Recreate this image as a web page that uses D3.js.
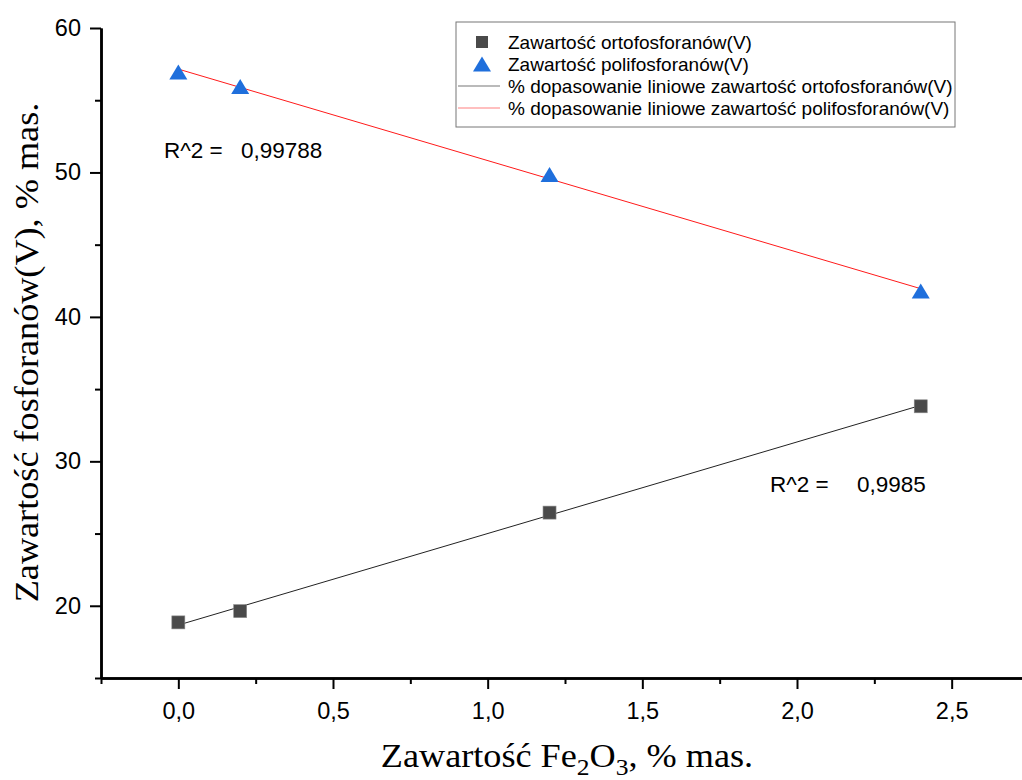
<!DOCTYPE html>
<html>
<head>
<meta charset="utf-8">
<script src="https://cdn.jsdelivr.net/npm/d3@7"></script>
<style>
  body { margin: 0; background: #fff; }
  svg { display: block; }
</style>
</head>
<body>
<script>
// data
var xValues = [0, 0.2, 1.2, 2.4];
var orthoValues = [18.85, 19.63, 26.45, 33.81];
var polyValues = [56.95, 55.95, 49.85, 41.8];
var r2Labels = ["0,99788", "0,9985"];
var xTicks = [0, 0.5, 1, 1.5, 2, 2.5];
var yTicks = [20, 30, 40, 50, 60];
var legendLabels = [
  "Zawartość ortofosforanów(V)",
  "Zawartość polifosforanów(V)",
  "% dopasowanie liniowe zawartość ortofosforanów(V)",
  "% dopasowanie liniowe zawartość polifosforanów(V)"
];

var width = 1022, height = 780;

var svg = d3.select("body").append("svg")
  .attr("width", width)
  .attr("height", height);

var x = d3.scaleLinear().domain([-0.25, 2.75]).range([101, 1029]);
var y = d3.scaleLinear().domain([15, 60]).range([678, 28]);

var pl = d3.formatLocale({decimal: ",", thousands: " ", grouping: [3], currency: ["", ""]});
var fmt = pl.format(".1f");

//axes
var xAxis = svg.append("g")
  .attr("transform", "translate(0," + y(15) + ")")
  .call(d3.axisBottom(x).tickValues(xTicks).tickFormat(fmt).tickSize(11).tickSizeOuter(0));
var xMinor = svg.append("g")
  .attr("transform", "translate(0," + y(15) + ")")
  .call(d3.axisBottom(x).tickValues([-0.25, 0.25, 0.75, 1.25, 1.75, 2.25]).tickFormat("").tickSize(6).tickSizeOuter(0));
var yAxis = svg.append("g")
  .attr("transform", "translate(" + x(-0.25) + ",0)")
  .call(d3.axisLeft(y).tickValues(yTicks).tickFormat(d3.format("d")).tickSize(11).tickSizeOuter(0));
var yMinor = svg.append("g")
  .attr("transform", "translate(" + x(-0.25) + ",0)")
  .call(d3.axisLeft(y).tickValues([15, 25, 35, 45, 55]).tickFormat("").tickSize(6).tickSizeOuter(0));

svg.selectAll(".domain").attr("stroke", "#000").attr("stroke-width", 2.5);
svg.selectAll(".tick line").attr("stroke", "#000").attr("stroke-width", 2);
svg.selectAll(".tick text")
  .attr("font-family", "'Liberation Sans', Arial, sans-serif")
  .attr("font-size", 23.5)
  .attr("fill", "#000");
xAxis.selectAll(".tick text").attr("dy", null).attr("y", 0).attr("transform", "translate(0,41)");
yAxis.selectAll(".tick text").attr("x", -20);

//axis titles (font looks a little wider than Times, so stretch it)
var xt = svg.append("text")
  .attr("transform", "translate(567,767) scale(1.065,1)")
  .attr("text-anchor", "middle")
  .attr("font-family", "'Liberation Serif', 'Times New Roman', serif")
  .attr("font-size", 34)
  .attr("fill", "#000");
xt.append("tspan").text("Zawartość Fe");
xt.append("tspan").attr("font-size", 24).attr("dy", 8).text("2");
xt.append("tspan").attr("dy", -8).text("O");
xt.append("tspan").attr("font-size", 24).attr("dy", 8).text("3");
xt.append("tspan").attr("dy", -8).text(", % mas.");

svg.append("text")
  .attr("transform", "translate(37.5,352.5) rotate(-90) scale(1.065,1)")
  .attr("text-anchor", "middle")
  .attr("font-family", "'Liberation Serif', 'Times New Roman', serif")
  .attr("font-size", 34)
  .attr("fill", "#000")
  .text("Zawartość fosforanów(V), % mas.");

//linear fits
function fit(xs, ys){
  var mx = d3.mean(xs), my = d3.mean(ys);
  var sxy = d3.sum(xs, function(v, i){ return (v - mx) * (ys[i] - my); });
  var sxx = d3.sum(xs, function(v){ return (v - mx) * (v - mx); });
  var b = sxy / sxx;
  return {a: my - b * mx, b: b};
}
var xr = d3.extent(xValues);
var line = d3.line().x(function(d){ return x(d[0]); }).y(function(d){ return y(d[1]); });
[[orthoValues, "#222"], [polyValues, "#ff1a1a"]].forEach(function(s){
  var f = fit(xValues, s[0]);
  svg.append("path")
    .attr("d", line(xr.map(function(v){ return [v, f.a + f.b * v]; })))
    .attr("fill", "none")
    .attr("stroke", s[1])
    .attr("stroke-width", 1);
});

//markers
svg.selectAll(".sq")
  .data(xValues)
  .enter()
  .append("rect")
  .attr("class", "sq")
  .attr("x", function(d){ return x(d) - 6.5; })
  .attr("y", function(d, i){ return y(orthoValues[i]) - 6.5; })
  .attr("width", 13).attr("height", 13)
  .attr("fill", "#4a4a4a")
  .attr("stroke", "#8a8a8a").attr("stroke-width", 0.6);

function tri(cx, cy){
  return "M" + cx + "," + (cy - 7.5) + "L" + (cx + 9) + "," + (cy + 7.5) + "L" + (cx - 9) + "," + (cy + 7.5) + "Z";
}
svg.selectAll(".tri")
  .data(xValues)
  .enter()
  .append("path")
  .attr("class", "tri")
  .attr("d", function(d, i){ return tri(x(d), y(polyValues[i])); })
  .attr("fill", "#1f6fdc");

//R^2 labels
var r2Pos = [[164, 241, 158], [770, 857, 492]];
r2Pos.forEach(function(p, i){
  svg.append("text")
    .attr("x", p[0]).attr("y", p[2])
    .attr("font-family", "'Liberation Sans', Arial, sans-serif")
    .attr("font-size", 22.5).attr("fill", "#000")
    .text("R^2 =");
  svg.append("text")
    .attr("x", p[1]).attr("y", p[2])
    .attr("font-family", "'Liberation Sans', Arial, sans-serif")
    .attr("font-size", 22.5).attr("fill", "#000")
    .text(r2Labels[i]);
});

//legend
var lg = svg.append("g");
lg.append("rect")
  .attr("x", 456).attr("y", 22).attr("width", 499).attr("height", 105)
  .attr("fill", "#fff").attr("stroke", "#777").attr("stroke-width", 1);
var rowY = [42, 64, 86, 108];
lg.selectAll(".lt")
  .data(legendLabels)
  .enter()
  .append("text")
  .attr("x", 508)
  .attr("y", function(d, i){ return rowY[i] + 6.5; })
  .attr("font-family", "'Liberation Sans', Arial, sans-serif")
  .attr("font-size", 19).attr("fill", "#000")
  .text(function(d){ return d; });
lg.append("rect").attr("x", 476).attr("y", rowY[0] - 6).attr("width", 12).attr("height", 12).attr("fill", "#4a4a4a");
lg.append("path").attr("d", tri(482, rowY[1])).attr("fill", "#1f6fdc");
lg.append("line").attr("x1", 458).attr("x2", 500).attr("y1", rowY[2]).attr("y2", rowY[2]).attr("stroke", "#777").attr("stroke-width", 1.2);
lg.append("line").attr("x1", 458).attr("x2", 500).attr("y1", rowY[3]).attr("y2", rowY[3]).attr("stroke", "#ff8080").attr("stroke-width", 1.2);
</script>
</body>
</html>
